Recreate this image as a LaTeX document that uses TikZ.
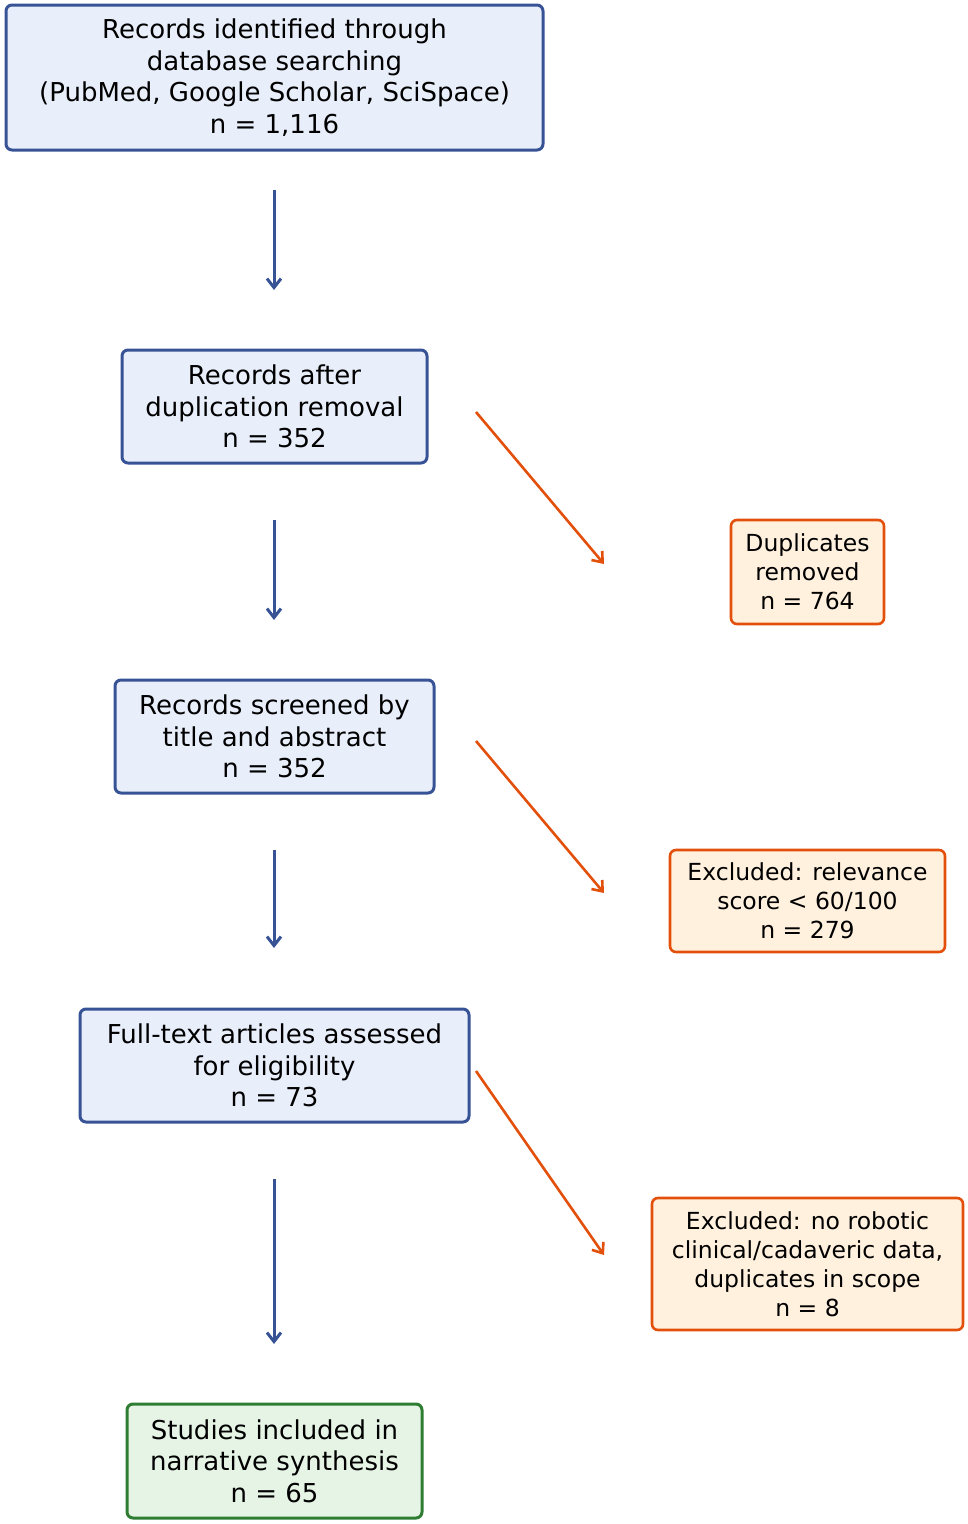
\documentclass[tikz,border=0pt]{standalone}
\usepackage{fontspec}
\setmainfont{DejaVu Sans}
\usetikzlibrary{arrows.meta}
\definecolor{bB}{RGB}{55,83,150}
\definecolor{bF}{RGB}{232,238,250}
\definecolor{oB}{RGB}{226,80,12}
\definecolor{oF}{RGB}{255,241,222}
\definecolor{gB}{RGB}{46,125,50}
\definecolor{gF}{RGB}{230,244,230}
\begin{document}
\begin{tikzpicture}[x=1pt,y=-1pt,
 box/.style={draw=bB,fill=bF,line width=3pt,rounded corners=6pt,align=center,inner sep=0pt,font=\fontsize{26}{31.5}\selectfont},
 obox/.style={draw=oB,fill=oF,line width=2.6pt,rounded corners=6pt,align=center,inner sep=0pt,font=\fontsize{23.5}{29}\selectfont},
 gbox/.style={box,draw=gB,fill=gF},
 barr/.style={draw=bB,line width=3pt,-{Straight Barb[length=9pt,width=14pt,line width=3pt]}},
 oarr/.style={draw=oB,line width=2.6pt,-{Straight Barb[length=9pt,width=14pt,line width=2.6pt]}}]
\useasboundingbox (0,0) rectangle (968,1524);
\node[box,minimum width=537,minimum height=145] (a) at (274.5,77.5) {Records identified through\\database searching\\(PubMed, Google Scholar, SciSpace)\\n = 1,116};
\node[box,minimum width=305,minimum height=113] (b) at (274.5,406.5) {Records after\\duplication removal\\n = 352};
\node[box,minimum width=319,minimum height=113] (c) at (274.5,736.5) {Records screened by\\title and abstract\\n = 352};
\node[box,minimum width=389,minimum height=113] (d) at (274.5,1065.5) {Full-text articles assessed\\for eligibility\\n = 73};
\node[gbox,minimum width=295,minimum height=114] (e) at (274.5,1461) {Studies included in\\narrative synthesis\\n = 65};
\node[obox,minimum width=153,minimum height=104] (o1) at (807.5,572) {Duplicates\\removed\\n = 764};
\node[obox,minimum width=275,minimum height=102] (o2) at (807.5,901) {Excluded: relevance\\score < 60/100\\n = 279};
\node[obox,minimum width=311,minimum height=132] (o3) at (807.5,1264) {Excluded: no robotic\\clinical/cadaveric data,\\duplicates in scope\\n = 8};
\coordinate (a1) at (274,190); \coordinate (a2) at (274,290);
\coordinate (b1) at (274,520); \coordinate (b2) at (274,620);
\coordinate (c1) at (274,850); \coordinate (c2) at (274,948);
\coordinate (d1) at (274,1179); \coordinate (d2) at (274,1344);
\coordinate (p1) at (476,412); \coordinate (q1) at (604,564);
\coordinate (p2) at (476,741); \coordinate (q2) at (604,893);
\coordinate (p3) at (476,1071); \coordinate (q3) at (604,1255);
\draw[barr] (a1) -- (a2);
\draw[barr] (b1) -- (b2);
\draw[barr] (c1) -- (c2);
\draw[barr] (d1) -- (d2);
\draw[oarr] (p1) -- (q1);
\draw[oarr] (p2) -- (q2);
\draw[oarr] (p3) -- (q3);
\end{tikzpicture}
\end{document}
